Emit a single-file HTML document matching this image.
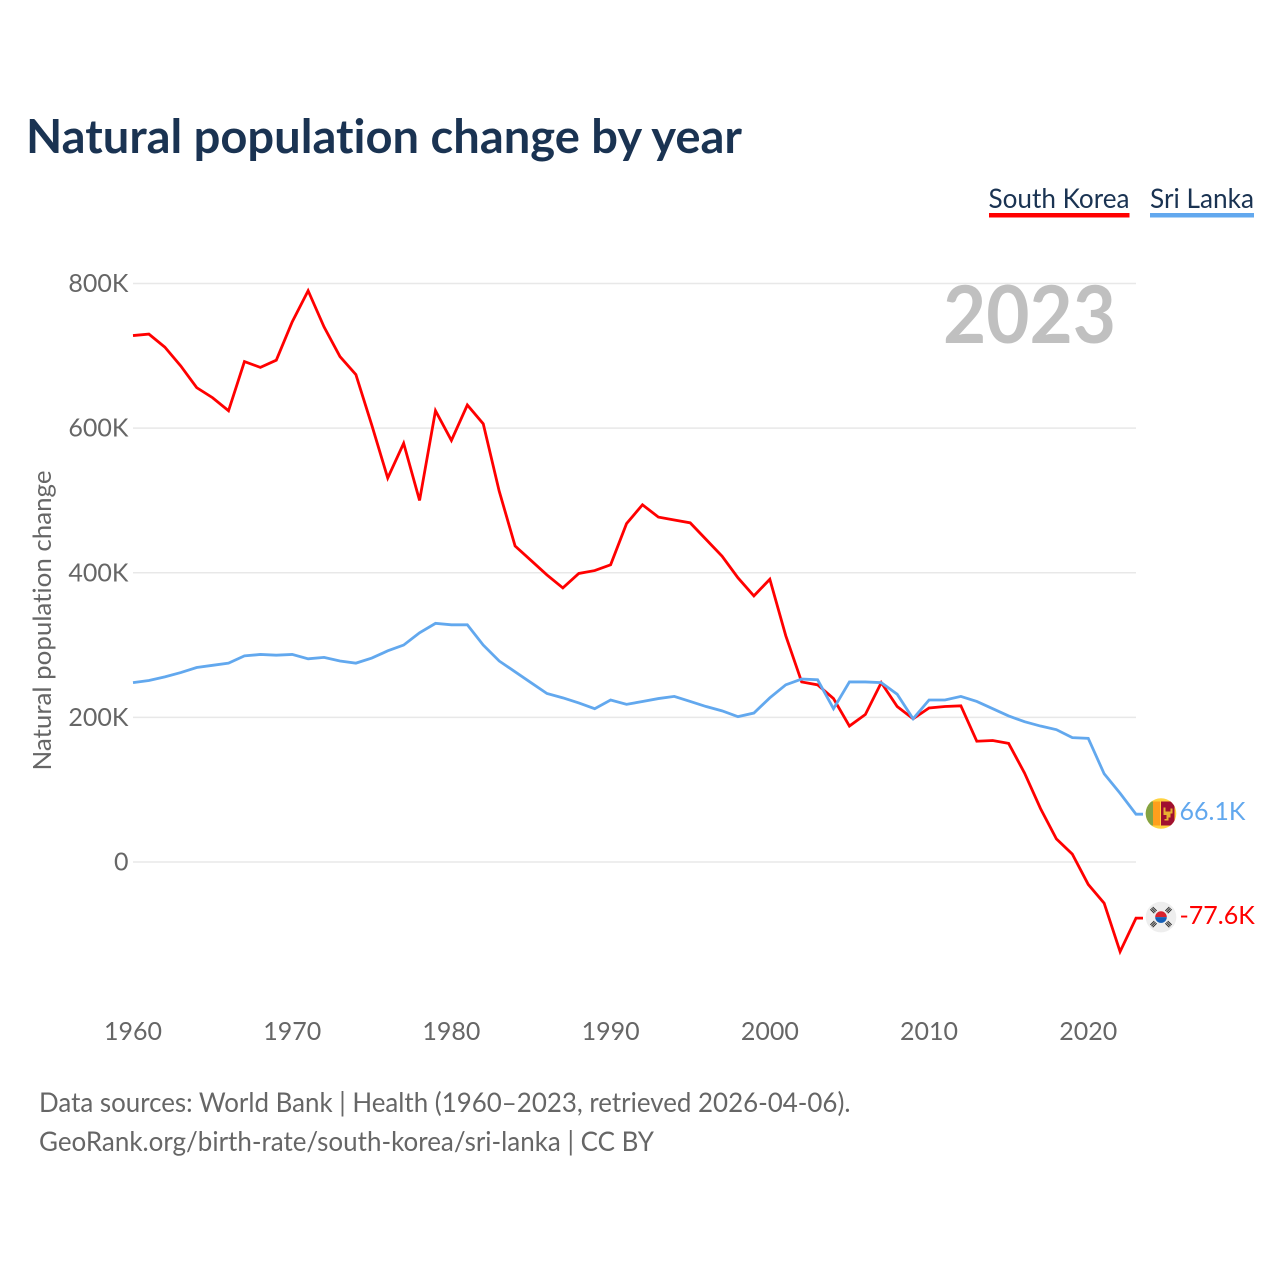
<!DOCTYPE html>
<html lang="en">
<head>
<meta charset="utf-8">
<title>Natural population change by year</title>
<style>
html,body{margin:0;padding:0;background:#fff;width:1280px;height:1280px;overflow:hidden}
svg{display:block}
text{font-family:"Lato","Carlito","Liberation Sans",sans-serif;font-variant-ligatures:none;font-feature-settings:"liga" 0,"clig" 0}
</style>
</head>
<body>
<svg id="chart" xmlns="http://www.w3.org/2000/svg" width="1280" height="1280" viewBox="0 0 1280 1280">
  <rect x="0" y="0" width="1280" height="1280" fill="#fff"/>
  <text x="26" y="153" font-size="47" font-weight="700" fill="#1a3352" textLength="716" lengthAdjust="spacingAndGlyphs">Natural population change by year</text>

  <g>
    <g>
      <text x="988.5" y="208" font-size="27.5" fill="#1a3352" textLength="141" lengthAdjust="spacingAndGlyphs">South Korea</text>
      <rect x="989" y="213" width="140.5" height="4.5" fill="#ff0000"/>
    </g>
    <g>
      <text x="1150" y="208" font-size="27.5" fill="#1a3352" textLength="104" lengthAdjust="spacingAndGlyphs">Sri Lanka</text>
      <rect x="1150" y="213" width="104" height="4.5" fill="#62a8ee"/>
    </g>
  </g>

  <g id="grid"></g>
  <g id="y-ticks"></g>
  <g id="x-ticks"></g>

  <text transform="translate(51 620.5) rotate(-90)" text-anchor="middle" font-size="25.5" fill="#666" textLength="300" lengthAdjust="spacingAndGlyphs">Natural population change</text>

  <text x="1116" y="343" text-anchor="end" font-size="80" font-weight="700" fill="#c0c0c0" textLength="173" lengthAdjust="spacingAndGlyphs">2023</text>

  <g id="series"></g>
  <g id="end-markers"></g>

  <text x="39" y="1112" font-size="27.5" fill="#666" textLength="811.5" lengthAdjust="spacingAndGlyphs">Data sources: World Bank | Health (1960–2023, retrieved 2026-04-06).</text>
  <text x="39" y="1151" font-size="27.5" fill="#666" textLength="615" lengthAdjust="spacingAndGlyphs">GeoRank.org/birth-rate/south-korea/sri-lanka | CC BY</text>
</svg>

<script>
var startYear = 1960;
var endYear = 2023;
var yTickValues = [0, 200, 400, 600, 800];
var yTickLabels = ['0', '200K', '400K', '600K', '800K'];
var xTickValues = [1960, 1970, 1980, 1990, 2000, 2010, 2020];
var xTickLabels = ['1960', '1970', '1980', '1990', '2000', '2010', '2020'];

var southKoreaValues = [728, 730, 712, 686, 656, 642, 624, 692, 684, 694, 747, 790, 740, 699, 674, 604,
  531, 579, 500, 624, 583, 632, 606, 513, 437, 417, 397, 379, 399, 403, 411, 468, 494, 477, 473, 469,
  446, 423, 393, 368, 391, 313, 249, 245, 226, 188, 204, 248, 215, 198, 213, 215, 216, 167, 168, 164,
  123, 74, 32, 11, -31, -57, -124, -77.6];
var sriLankaValues = [248, 251, 256, 262, 269, 272, 275, 285, 287, 286, 287, 281, 283, 278, 275, 282,
  292, 300, 317, 330, 328, 328, 300, 278, 263, 248, 233, 227, 220, 212, 224, 218, 222, 226, 229, 222,
  215, 209, 201, 206, 227, 245, 253, 252, 212, 249, 249, 248, 232, 198, 224, 224, 229, 222, 212, 202,
  194, 188, 183, 172, 171, 122, 95, 66.1];
var southKoreaEndLabel = '-77.6K';
var sriLankaEndLabel = '66.1K';

var NS = 'http://www.w3.org/2000/svg';
function xScale(year) { return 133 + (year - 1960) * (1136 - 133) / 63; }
function yScale(value) { return 862 - value * (862 - 283.5) / 800; }
function make(tag, parent, attrs) {
  var el = document.createElementNS(NS, tag);
  for (var k in attrs) { el.setAttribute(k, attrs[k]); }
  parent.appendChild(el);
  return el;
}

var gridGroup = document.getElementById('grid');
var yTickGroup = document.getElementById('y-ticks');
yTickValues.forEach(function (v, i) {
  var line = make('line', gridGroup, {x1: 133, x2: 1136, y1: yScale(v), y2: yScale(v), stroke: '#e8e8e8', 'stroke-width': 1.4});
  
  
  var label = make('text', yTickGroup, {x: 128.5, y: yScale(v) + 8.5, 'text-anchor': 'end', 'font-size': 25, fill: '#666'});
  
  
  label.textContent = yTickLabels[i];
});

var xTickGroup = document.getElementById('x-ticks');
xTickValues.forEach(function (v, i) {
  var label = make('text', xTickGroup, {x: xScale(v), y: 1040, 'text-anchor': 'middle', 'font-size': 25, fill: '#666'});
  
  
  label.textContent = xTickLabels[i];
});

function seriesPoints(values) {
  var pts = values.map(function (v, i) {
    return xScale(startYear + i).toFixed(2) + ',' + yScale(v).toFixed(2);
  });
  pts.push('1143,' + yScale(values[values.length - 1]).toFixed(2));
  return pts.join(' ');
}

var seriesGroup = document.getElementById('series');
var koreaLine = make('polyline', seriesGroup, {points: seriesPoints(southKoreaValues), fill: 'none', stroke: '#ff0000', 'stroke-width': 2.8, 'stroke-linejoin': 'miter'});


var lankaLine = make('polyline', seriesGroup, {points: seriesPoints(sriLankaValues), fill: 'none', stroke: '#62a8ee', 'stroke-width': 2.8, 'stroke-linejoin': 'miter'});



var markerGroup = document.getElementById('end-markers');

/* Sri Lanka end flag and value */
var lankaY = yScale(sriLankaValues[sriLankaValues.length - 1]) - 0.7;
var lankaFlag = make('g', markerGroup, {transform: 'translate(1161 ' + lankaY.toFixed(2) + ')'});


var lankaClip = make('clipPath', lankaFlag, {id: 'lanka-clip'});
make('circle', lankaClip, {cx: 0, cy: 0, r: 15.3});
var lankaBody = make('g', lankaFlag, {'clip-path': 'url(#lanka-clip)'});
make('rect', lankaBody, {x: -16, y: -16, width: 32, height: 32, fill: '#ffd23f'});
make('rect', lankaBody, {x: -16, y: -12, width: 8, height: 24, fill: '#83a343'});
make('rect', lankaBody, {x: -8, y: -12, width: 7, height: 24, fill: '#ff9f1c'});
make('rect', lankaBody, {x: 0, y: -12, width: 13.5, height: 24, fill: '#a01030'});
make('path', lankaBody, {d: 'M2.5 -6h2v4h5v-3h2v5h-2v4h-2v3h-4v-1.500h2v-4h-3z', fill: '#e8b030'});

var lankaText = make('text', markerGroup, {x: 1179.5, y: lankaY + 6.5, 'font-size': 25, fill: '#62a8ee'});


lankaText.textContent = sriLankaEndLabel;

/* South Korea end flag and value */
var koreaY = yScale(southKoreaValues[southKoreaValues.length - 1]) - 1;
var koreaFlag = make('g', markerGroup, {transform: 'translate(1161 ' + koreaY.toFixed(2) + ')'});


make('circle', koreaFlag, {cx: 0, cy: 0, r: 15.3, fill: '#eeeeee'});
make('path', koreaFlag, {d: 'M-5.8 0a5.8 5.800 0 0 1 11.600 0z', fill: '#d8232f'});
make('path', koreaFlag, {d: 'M-5.8 0a5.8 5.800 0 0 0 11.600 0z', fill: '#1560b8'});
[[-7.5, -7, 45], [7.500, -7, -45], [-7.5, 7, -45], [7.500, 7, 45]].forEach(function (t) {
  var bars = make('g', koreaFlag, {transform: 'translate(' + t[0] + ' ' + t[1] + ') rotate(' + t[2] + ')'});
  make('rect', bars, {x: -2.8, y: -2.2, width: 5.6, height: 1.1, fill: '#333'});
  make('rect', bars, {x: -2.8, y: -0.55, width: 5.6, height: 1.1, fill: '#333'});
  make('rect', bars, {x: -2.8, y: 1.1, width: 5.6, height: 1.1, fill: '#333'});
});

var koreaText = make('text', markerGroup, {x: 1179.5, y: koreaY + 7, 'font-size': 25, fill: '#ff0000'});


koreaText.textContent = southKoreaEndLabel;
</script>
</body>
</html>
